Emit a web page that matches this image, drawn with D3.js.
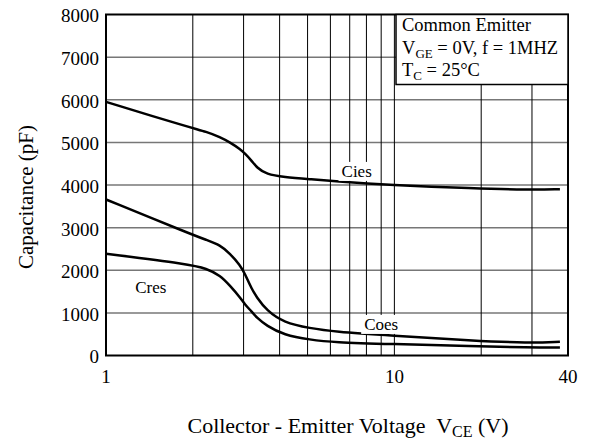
<!DOCTYPE html>
<html>
<head>
<meta charset="utf-8">
<script src="https://cdn.jsdelivr.net/npm/d3@7"></script>
<style>
  body { margin: 0; background: #fff; }
  svg text { font-family: "Liberation Serif", "Times New Roman", serif; fill: #000; }
</style>
</head>
<body>
<div id="chart"></div>
<script>
// Collector-emitter voltage (V) sample points
const vce = [1, 1.95, 2.23, 2.49, 2.69, 2.92, 3.03, 3.2, 3.33, 3.6, 4.14, 5.1, 6.17, 9.65, 18.7, 29.3, 37.5];
// Capacitance curves (pF)
const cies = [5950, 5350, 5250, 5120, 5000, 4840, 4740, 4570, 4410, 4250, 4185, 4135, 4090, 4000, 3920, 3885, 3900];
const coes = [3660, 2860, 2710, 2590, 2390, 2120, 1920, 1560, 1370, 1060, 770, 640, 560, 470, 350, 290, 325];
const cres = [2385, 2140, 2040, 1880, 1640, 1360, 1200, 1030, 890, 700, 480, 370, 310, 270, 220, 185, 185];
const seriesNames = ["Cies", "Coes", "Cres"];

const xGrid = [2, 3, 4, 5, 6, 7, 8, 9, 10, 20, 30];
const xTickLabels = [1, 10, 40];
const yTicks = [0, 1000, 2000, 3000, 4000, 5000, 6000, 7000, 8000];

const width = 592, height = 446;
const plot = { left: 106, right: 568, top: 14.5, bottom: 355.5 };
const serif = "'Liberation Serif', 'Times New Roman', serif";

const svg = d3.select("#chart").append("svg")
  .attr("width", width)
  .attr("height", height)
  .attr("font-family", serif);

const x = d3.scaleLog().domain([1, 40]).range([plot.left, plot.right]);
const y = d3.scaleLinear().domain([0, 8000]).range([plot.bottom, plot.top]);

// Grid
svg.append("g")
  .selectAll("line")
  .data(yTicks.slice(1, -1))
  .join("line")
  .attr("x1", plot.left).attr("x2", plot.right)
  .attr("y1", d => y(d)).attr("y2", d => y(d))
  .attr("stroke", "#777")
  .attr("stroke-width", 1.5);

svg.append("g")
  .selectAll("line")
  .data(xGrid)
  .join("line")
  .attr("x1", d => x(d)).attr("x2", d => x(d))
  .attr("y1", plot.top).attr("y2", plot.bottom)
  .attr("stroke", "#000")
  .attr("stroke-width", 1);

// Y tick labels
svg.append("g")
  .selectAll("text")
  .data(yTicks)
  .join("text")
  .attr("x", plot.left - 7)
  .attr("y", d => y(d))
  .attr("dy", "0.42em")
  .attr("text-anchor", "end")
  .style("font-size", "19px")
  .text(d => d);

// X tick labels
svg.append("g")
  .selectAll("text")
  .data(xTickLabels)
  .join("text")
  .attr("x", d => x(d))
  .attr("y", 383)
  .attr("text-anchor", "middle")
  .style("font-size", "19px")
  .text(d => d);

// Curves
const line = d3.line()
  .x((d, i) => x(vce[i]))
  .y(d => y(d))
  .curve(d3.curveBasis);

[cies, coes, cres].forEach(s => {
  svg.append("path")
    .attr("d", line(s))
    .attr("fill", "none")
    .attr("stroke", "#000")
    .attr("stroke-width", 2.5);
});

// Curve labels
const labelPos = [
  { name: seriesNames[0], vx: 7.4, vy: 4190, bg: true },
  { name: seriesNames[1], vx: 9.0, vy: 600, bg: true },
  { name: seriesNames[2], vx: 1.43, vy: 1467, bg: false }
];
labelPos.forEach(l => {
  const t = svg.append("text")
    .attr("x", x(l.vx))
    .attr("y", y(l.vy))
    .attr("text-anchor", "middle")
    .style("font-size", "17px")
    .text(l.name);
  if (l.bg) {
    const b = t.node().getBBox();
    svg.insert("rect", function() { return t.node(); })
      .attr("x", b.x - 3).attr("y", b.y)
      .attr("width", b.width + 6).attr("height", b.height)
      .attr("fill", "#fff");
  }
});

// Frame
svg.append("rect")
  .attr("x", plot.left).attr("y", plot.top)
  .attr("width", plot.right - plot.left).attr("height", plot.bottom - plot.top)
  .attr("fill", "none")
  .attr("stroke", "#000")
  .attr("stroke-width", 2);

// Condition box
const box = svg.append("g");
box.append("rect")
  .attr("x", plot.right - 172).attr("y", plot.top)
  .attr("width", 172).attr("height", 70)
  .attr("fill", "#fff")
  .attr("stroke", "#000")
  .attr("stroke-width", 1.5);

const bx = plot.right - 166;
box.append("text").attr("x", bx).attr("y", 31)
  .style("font-size", "18.5px").text("Common Emitter");

const l2 = box.append("text").attr("x", bx).attr("y", 54).style("font-size", "18.5px");
l2.append("tspan").text("V");
l2.append("tspan").attr("dy", 4).style("font-size", "13px").text("GE");
l2.append("tspan").attr("dy", -4).text(" = 0V, f = 1MHZ");

const l3 = box.append("text").attr("x", bx).attr("y", 76).style("font-size", "18.5px");
l3.append("tspan").text("T");
l3.append("tspan").attr("dy", 4).style("font-size", "13px").text("C");
l3.append("tspan").attr("dy", -4).text(" = 25\u00B0C");

// Axis titles
svg.append("text")
  .attr("transform", "translate(33, 197) rotate(-90)")
  .attr("text-anchor", "middle")
  .style("font-size", "21px")
  .text("Capacitance (pF)");

const xt = svg.append("text")
  .attr("x", 348)
  .attr("y", 433)
  .attr("text-anchor", "middle")
  .style("font-size", "22px")
  .style("white-space", "pre");
xt.append("tspan").text("Collector - Emitter Voltage  V");
xt.append("tspan").attr("dy", 4).style("font-size", "16px").text("CE");
xt.append("tspan").attr("dy", -4).text(" (V)");
</script>
</body>
</html>
